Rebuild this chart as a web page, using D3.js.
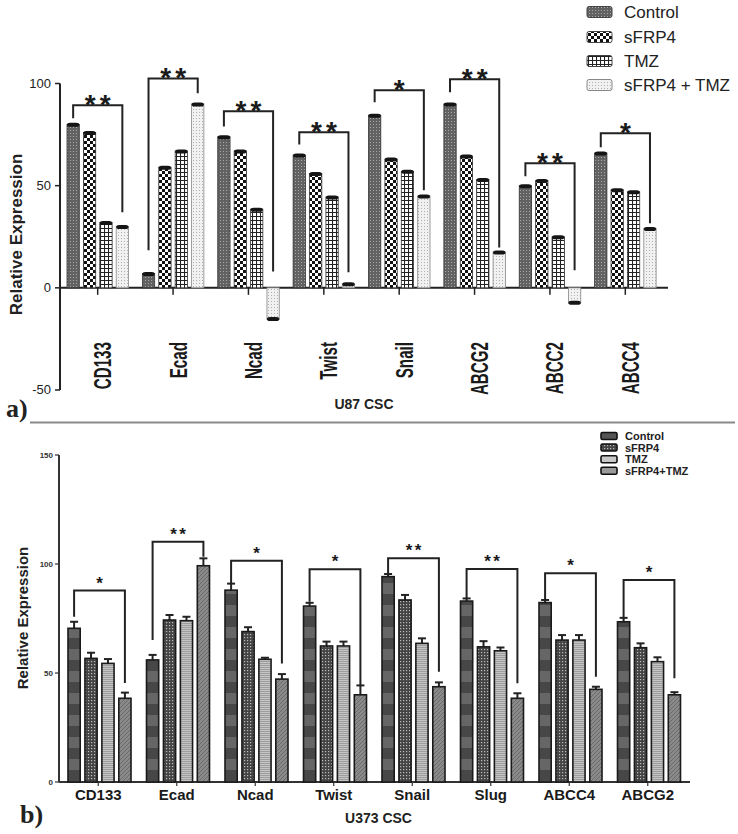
<!DOCTYPE html>
<html><head><meta charset="utf-8">
<script src="https://cdn.jsdelivr.net/npm/d3@7"></script>
<style>body{margin:0;background:#fff} svg{display:block}</style>
</head><body>
<svg id="c" width="738" height="834"></svg>
<script>
const series = ["Control","sFRP4","TMZ","sFRP4 + TMZ"];
const legendLabelsB = ["Control","sFRP4","TMZ","sFRP4+TMZ"];
// ---- panel a (U87 CSC) ----
const catsA = ["CD133","Ecad","Ncad","Twist","Snail","ABCG2","ABCC2","ABCC4"];
const controlA = [80, 7, 74, 65, 84.5, 90, 50, 66];
const sfrp4A   = [76, 59, 67, 56, 63, 64.5, 52.5, 48];
const tmzA     = [32, 67, 38.5, 44.5, 57, 53, 25, 47];
const comboA   = [30, 90, -15.5, 2, 45, 17.5, -7.5, 29];
const sigA     = ["**","**","**","**","*","**","**","*"];
const brTopA   = [89.3, 102.5, 86.4, 76.1, 96.7, 102.1, 61, 75.6];
const brLeftA  = [83, 18.4, 79, 70.2, 90.8, 95.7, 54.6, 68.8];
const brRightA = [37, 95.2, 8, 7.6, 47.7, 19.8, 8.6, 31.6];
const ticksA   = [-50, 0, 50, 100];
// ---- panel b (U373 CSC) ----
const catsB = ["CD133","Ecad","Ncad","Twist","Snail","Slug","ABCC4","ABCG2"];
const controlB = [70.5, 56, 88, 80.7, 94.2, 83, 82.3, 73.5];
const sfrp4B   = [56.7, 74.3, 69, 62.4, 83.5, 62, 65.1, 61.6];
const tmzB     = [54.4, 74, 56.3, 62.4, 63.6, 60.2, 65.1, 55.2];
const comboB   = [38.4, 99.2, 47.2, 40, 43.7, 38.4, 42.5, 40];
const errControlB = [3, 2.3, 3, 1.5, 1.2, 1.2, 1.2, 1.8];
const errSfrp4B   = [2.6, 2.3, 2, 2, 2.3, 2.6, 2.3, 2];
const errTmzB     = [2, 1.8, 0.7, 2, 2.3, 1.5, 2.3, 2];
const errComboB   = [2.6, 3.4, 2.3, 4.3, 2, 2.3, 1.2, 1.2];
const sigB     = ["*","**","*","*","**","**","*","*"];
const brTopB   = [87.8, 110.2, 101.5, 97.6, 102.6, 97.7, 95.7, 92.7];
const brLeftB  = [75.8, 65.1, 90.4, 82.7, 95.7, 84.3, 83.5, 74.6];
const brRightB = [45.4, 103.3, 54.4, 44.5, 50.6, 45.3, 48.3, 47.6];
const ticksB   = [0, 50, 100, 150];

const svg = d3.select("#c");
const defs = svg.append("defs");
function pat(id, w, h, bg, draw) {
  const p = defs.append("pattern").attr("id", id).attr("patternUnits", "userSpaceOnUse")
    .attr("width", w).attr("height", h);
  p.append("rect").attr("width", w).attr("height", h).attr("fill", bg);
  draw(p);
}
// panel a patterns
pat("pa0", 3, 3, "#626262", p => { p.append("rect").attr("x",1).attr("y",1).attr("width",1).attr("height",1).attr("fill","#a8a8a8"); });
pat("pa1", 6, 6, "#111", p => {
  p.append("rect").attr("x",0).attr("y",0).attr("width",3).attr("height",3).attr("fill","#fff");
  p.append("rect").attr("x",3).attr("y",3).attr("width",3).attr("height",3).attr("fill","#fff");
});
pat("pa2", 4, 4, "#fff", p => { p.append("path").attr("d","M0,0.5H4M0.5,0V4").attr("stroke","#222").attr("stroke-width",1.1); });
pat("pa3", 3, 3, "#f1f1f1", p => { p.append("rect").attr("x",1).attr("y",1).attr("width",1).attr("height",1).attr("fill","#b0b0b0"); });
// panel b patterns
pat("pb0", 6, 22, "#474747", p => { p.append("rect").attr("y",11).attr("width",6).attr("height",11).attr("fill","#666"); });
pat("pb1", 3, 3, "#444", p => { p.append("rect").attr("x",1).attr("y",1).attr("width",1.2).attr("height",1.2).attr("fill","#bbb"); });
pat("pb2", 4, 2, "#c4c4c4", p => { p.append("rect").attr("y",1).attr("width",4).attr("height",0.8).attr("fill","#959595"); });
pat("pb3", 4, 4, "#8a8a8a", p => { p.append("path").attr("d","M0,4L4,0").attr("stroke","#6a6a6a").attr("stroke-width",1); });
const patsA = ["url(#pa0)","url(#pa1)","url(#pa2)","url(#pa3)"];
const patsB = ["url(#pb0)","url(#pb1)","url(#pb2)","url(#pb3)"];

// ================= PANEL A =================
const gA = svg.append("g");
const yA = d3.scaleLinear().domain([-50, 100]).range([390, 83.5]);
const xA = d3.scaleBand().domain(catsA).range([60, 663]);
const inA = d3.scaleBand().domain(series).range([7, 68.5]).paddingInner(0.25);
const valsA = [controlA, sfrp4A, tmzA, comboA];

gA.append("line").attr("x1", 60).attr("x2", 60).attr("y1", yA(100)).attr("y2", yA(-50)).attr("stroke", "#222").attr("stroke-width", 2);
gA.append("line").attr("x1", 60).attr("x2", 668).attr("y1", yA(0)).attr("y2", yA(0)).attr("stroke", "#222").attr("stroke-width", 2);
ticksA.forEach(t => {
  gA.append("line").attr("x1", 55).attr("x2", 60).attr("y1", yA(t)).attr("y2", yA(t)).attr("stroke", "#222").attr("stroke-width", 1.5);
  gA.append("text").attr("x", 51).attr("y", yA(t) + 4).attr("text-anchor", "end")
    .attr("font-family", "Liberation Sans, Arial").attr("font-size", 13).attr("fill", "#222").text(t);
});
catsA.forEach(c => {
  const cx = xA(c) + xA.bandwidth() / 2;
  gA.append("line").attr("x1", cx).attr("x2", cx).attr("y1", yA(0)).attr("y2", yA(0) + 7).attr("stroke", "#222").attr("stroke-width", 1.5);
  gA.append("text").attr("transform", `translate(${cx + 13.5},342) rotate(-90) scale(0.66,1)`)
    .attr("text-anchor", "end").attr("font-family", "Liberation Sans, Arial").attr("font-weight", "bold")
    .attr("font-size", 23).attr("fill", "#1a1a1a").text(c);
});
series.forEach((s, si) => {
  catsA.forEach((c, ci) => {
    const v = valsA[si][ci];
    const x = xA(c) + inA(s), w = inA.bandwidth();
    const y0 = yA(0), y1 = yA(v);
    gA.append("rect").attr("x", x).attr("y", Math.min(y0, y1)).attr("width", w).attr("height", Math.abs(y0 - y1))
      .attr("fill", patsA[si]).attr("stroke", si === 3 ? "#888" : "#333").attr("stroke-width", 0.8);
    const capY = v >= 0 ? y1 - 1.5 : y1 - 2.5;
    gA.append("rect").attr("x", x).attr("y", capY).attr("width", w).attr("height", 4).attr("rx", 3)
      .attr("fill", "#151515");
  });
});
catsA.forEach((c, ci) => {
  const xl = xA(c) + inA(series[0]) + inA.bandwidth() / 2;
  const xr = xA(c) + inA(series[3]) + inA.bandwidth() / 2;
  const yt = yA(brTopA[ci]);
  gA.append("path").attr("d", `M${xl},${yA(brLeftA[ci])}V${yt}H${xr}V${yA(brRightA[ci])}`)
    .attr("fill", "none").attr("stroke", "#222").attr("stroke-width", 2);
  const n = sigA[ci].length, mid = (xl + xr) / 2;
  for (let k = 0; k < n; k++) {
    const sx = mid + (k - (n - 1) / 2) * 15;
    gA.append("text").attr("x", sx).attr("y", yt + 9).attr("text-anchor", "middle")
      .attr("font-family", "Liberation Sans, Arial").attr("font-weight", "bold").attr("font-size", 28).attr("fill", "#1a1a1a").text("*");
  }
});
gA.append("text").attr("transform", "translate(22,234.5) rotate(-90)").attr("text-anchor", "middle")
  .attr("font-family", "Liberation Sans, Arial").attr("font-weight", "bold").attr("font-size", 17).attr("fill", "#222")
  .text("Relative Expression");
gA.append("text").attr("x", 364).attr("y", 409).attr("text-anchor", "middle")
  .attr("font-family", "Liberation Sans, Arial").attr("font-weight", "bold").attr("font-size", 14).attr("fill", "#222").text("U87 CSC");
gA.append("text").attr("x", 6).attr("y", 417).attr("font-family", "Liberation Serif, Times New Roman").attr("font-weight", "bold")
  .attr("font-size", 26).attr("fill", "#222").text("a)");
const legYA = [12, 37, 61, 85];
series.forEach((s, i) => {
  gA.append("rect").attr("x", 587).attr("y", legYA[i] - 5.5).attr("width", 25).attr("height", 11).attr("rx", 2)
    .attr("fill", patsA[i]).attr("stroke", i === 3 ? "#888" : "#444").attr("stroke-width", 1);
  gA.append("text").attr("x", 624).attr("y", legYA[i] + 6).attr("font-family", "Liberation Sans, Arial")
    .attr("font-size", 17).attr("fill", "#222").text(s);
});
svg.append("line").attr("x1", 30).attr("x2", 735).attr("y1", 422.5).attr("y2", 422.5).attr("stroke", "#8a8a8a").attr("stroke-width", 2);

// ================= PANEL B =================
const gB = svg.append("g");
const yB = d3.scaleLinear().domain([0, 150]).range([782, 455]);
const xB = d3.scaleBand().domain(catsB).range([59, 687]);
const inB = d3.scaleBand().domain(series).range([9, 72]).paddingInner(0.28);
const valsB = [controlB, sfrp4B, tmzB, comboB];
const errsB = [errControlB, errSfrp4B, errTmzB, errComboB];

gB.append("line").attr("x1", 59).attr("x2", 59).attr("y1", yB(150)).attr("y2", yB(0)).attr("stroke", "#333").attr("stroke-width", 2);
gB.append("line").attr("x1", 59).attr("x2", 690).attr("y1", yB(0)).attr("y2", yB(0)).attr("stroke", "#333").attr("stroke-width", 2);
ticksB.forEach(t => {
  gB.append("line").attr("x1", 55).attr("x2", 59).attr("y1", yB(t)).attr("y2", yB(t)).attr("stroke", "#333").attr("stroke-width", 1.2);
  gB.append("text").attr("x", 53).attr("y", yB(t) + 3).attr("text-anchor", "end")
    .attr("font-family", "Liberation Sans, Arial").attr("font-weight", "bold").attr("font-size", 8).attr("fill", "#333").text(t);
});
catsB.forEach(c => {
  const cx = xB(c) + xB.bandwidth() / 2;
  gB.append("line").attr("x1", cx).attr("x2", cx).attr("y1", yB(0)).attr("y2", yB(0) + 4).attr("stroke", "#333").attr("stroke-width", 1.2);
  gB.append("text").attr("x", cx).attr("y", 800).attr("text-anchor", "middle")
    .attr("font-family", "Liberation Sans, Arial").attr("font-weight", "bold").attr("font-size", 15).attr("fill", "#1a1a1a").text(c);
});
series.forEach((s, si) => {
  catsB.forEach((c, ci) => {
    const v = valsB[si][ci], e = errsB[si][ci];
    const x = xB(c) + inB(s), w = inB.bandwidth(), cx = x + w / 2;
    gB.append("line").attr("x1", cx).attr("x2", cx).attr("y1", yB(v)).attr("y2", yB(v + e)).attr("stroke", "#222").attr("stroke-width", 2);
    gB.append("line").attr("x1", cx - 4).attr("x2", cx + 4).attr("y1", yB(v + e)).attr("y2", yB(v + e)).attr("stroke", "#222").attr("stroke-width", 2);
    gB.append("rect").attr("x", x).attr("y", yB(v)).attr("width", w).attr("height", yB(0) - yB(v))
      .attr("fill", patsB[si]).attr("stroke", "#1a1a1a").attr("stroke-width", 1.6);
  });
});
catsB.forEach((c, ci) => {
  const xl = xB(c) + inB(series[0]) + inB.bandwidth() / 2;
  const xr = xB(c) + inB(series[3]) + inB.bandwidth() / 2;
  const yt = yB(brTopB[ci]);
  gB.append("path").attr("d", `M${xl},${yB(brLeftB[ci])}V${yt}H${xr}V${yB(brRightB[ci])}`)
    .attr("fill", "none").attr("stroke", "#222").attr("stroke-width", 2);
  const n = sigB[ci].length, mid = (xl + xr) / 2;
  for (let k = 0; k < n; k++) {
    const sx = mid + (k - (n - 1) / 2) * 9;
    gB.append("text").attr("x", sx).attr("y", yt - 2).attr("text-anchor", "middle")
      .attr("font-family", "Liberation Sans, Arial").attr("font-weight", "bold").attr("font-size", 17).attr("fill", "#1a1a1a").text("*");
  }
});
gB.append("text").attr("transform", "translate(28,618) rotate(-90)").attr("text-anchor", "middle")
  .attr("font-family", "Liberation Sans, Arial").attr("font-weight", "bold").attr("font-size", 15).attr("fill", "#222")
  .text("Relative Expression");
gB.append("text").attr("x", 378.5).attr("y", 823).attr("text-anchor", "middle")
  .attr("font-family", "Liberation Sans, Arial").attr("font-weight", "bold").attr("font-size", 14).attr("fill", "#222").text("U373 CSC");
gB.append("text").attr("x", 20).attr("y", 823).attr("font-family", "Liberation Serif, Times New Roman").attr("font-weight", "bold")
  .attr("font-size", 26).attr("fill", "#222").text("b)");
const legYB = [436, 447.5, 459.3, 470.7];
const legFillB = ["#555", "url(#pb1)", "#c8c8c8", "#9a9a9a"];
legendLabelsB.forEach((s, i) => {
  gB.append("rect").attr("x", 601).attr("y", legYB[i] - 3.5).attr("width", 16).attr("height", 7).attr("rx", 1.5)
    .attr("fill", legFillB[i]).attr("stroke", "#111").attr("stroke-width", 1.6);
  gB.append("text").attr("x", 625).attr("y", legYB[i] + 4).attr("font-family", "Liberation Sans, Arial").attr("font-weight", "bold")
    .attr("font-size", 11).attr("fill", "#222").text(s);
});
</script>
</body></html>
